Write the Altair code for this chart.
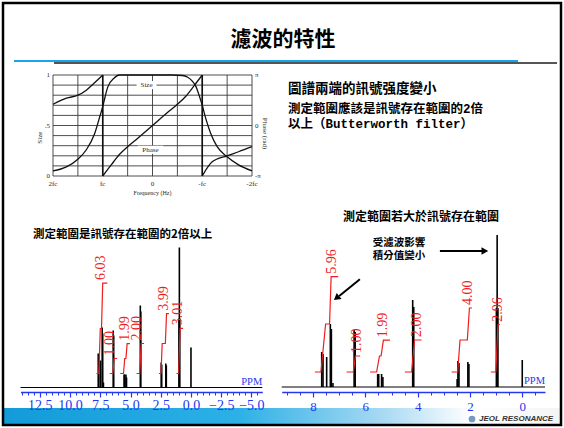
import altair as alt
import pandas as pd

CJK = "Noto Sans CJK TC"
SERIF = "Liberation Serif"
MONO = "Liberation Mono"
BLUE = "#2438f0"
RED = "#f01c1c"
INK = "#2b2b2b"

# ---------------- slide texts ----------------
title_text = "濾波的特性"
note_lines = ["圖譜兩端的訊號强度變小", "測定範圍應該是訊號存在範圍的2倍", "以上（Butterworth filter）"]
left_caption = "測定範圍是訊號存在範圍的2倍以上"
right_caption = "測定範圍若大於訊號存在範圍"
arrow_note = ["受濾波影響", "積分值變小"]
logo_text = "JEOL RESONANCE"

# ---------------- filter response (frequency in units of fc) ----------------
grid_freq = [2.0, 1.5, 1.0, 0.5, 0.0, -0.5, -1.0, -1.5, -2.0]
grid_level = [0.0, 0.1, 0.2, 0.3, 0.4, 0.5, 0.6, 0.7, 0.8, 0.9, 1.0]
size_freq = [2.0, 1.73, 1.5, 1.33, 1.17, 1.07, 1.0, 0.9, 0.77, 0.67, 0.4, 0.0,
             -0.4, -0.6, -0.7, -0.8, -0.87, -0.93, -1.0, -1.07, -1.17, -1.3, -1.5, -1.73, -2.0]
size_val = [0.05, 0.09, 0.165, 0.26, 0.41, 0.57, 0.69, 0.88, 0.97, 1.0, 1.0, 1.0,
            1.0, 0.995, 0.98, 0.94, 0.89, 0.81, 0.70, 0.57, 0.42, 0.29, 0.19, 0.11, 0.05]
phase_seg = [0] * 6 + [1] * 11 + [2] * 5
phase_freq = [2.0, 1.73, 1.5, 1.33, 1.17, 1.0,
              1.0, 0.83, 0.67, 0.5, 0.33, 0.0, -0.33, -0.5, -0.67, -0.83, -1.0,
              -1.0, -1.2, -1.5, -1.73, -2.0]
phase_val = [0.71, 0.77, 0.80, 0.85, 0.92, 1.0,
             0.0, 0.11, 0.21, 0.29, 0.36, 0.5, 0.64, 0.71, 0.79, 0.89, 1.0,
             0.0, 0.14, 0.20, 0.24, 0.29]
phase_drop_freq = [1.0, -1.0]
freq_ticks = [2.0, 1.0, 0.0, -1.0, -2.0]
freq_labels = ["2fc", "fc", "0", "-fc", "-2fc"]
level_ticks = [1.0, 0.5, 0.0]
size_labels = ["1", ".5", "0"]
phase_labels = ["π", "0", "-π"]

# ---------------- 1H spectra ----------------
left_window = [-5.9, 14.1]
right_window = [-0.87, 9.2]
left_ticks = [12.5, 10.0, 7.5, 5.0, 2.5, 0.0, -2.5, -5.0]
right_ticks = [8, 6, 4, 2, 0]

left_ppm = [7.67, 7.62, 7.48, 7.34, 7.30, 7.24, 6.43, 6.39, 5.53, 5.49, 5.38, 5.33,
            4.19, 4.15, 2.46, 2.42, 2.08, 2.04, 0.99, 0.96, 0.93, 0.00]
left_height = [34, 31, 27, 60, 54, 5, 57, 52, 13, 13, 13, 10,
               82, 76, 25, 23, 24, 22, 69, 140, 69, 40]
right_ppm = [7.67, 7.62, 7.48, 7.34, 7.30, 7.24, 6.43, 6.39, 5.53, 5.49, 5.38, 5.33,
             4.19, 4.15, 2.49, 2.46, 2.42, 2.08, 2.04, 0.99, 0.96, 0.93, 0.00]
right_height = [35, 33, 30, 63, 58, 4, 57, 55, 13, 13, 13, 10,
                87, 80, 8, 26, 24, 25, 23, 79, 152, 79, 27]

left_int_region = [0] * 6 + [1] * 4 + [2] * 6 + [3] * 4 + [4] * 6 + [5] * 4
left_int_ppm = [7.82, 7.62, 7.50, 7.40, 7.30, 6.92,
                6.72, 6.46, 6.36, 6.12,
                5.85, 5.58, 5.48, 5.38, 5.28, 5.05,
                4.50, 4.24, 4.12, 3.88,
                2.65, 2.48, 2.38, 2.12, 2.02, 1.82,
                1.20, 1.02, 0.90, 0.65]
left_int_val = [0, 0, 3.0, 3.0, 6.03, 6.03,
                0, 0, 1.0, 1.0,
                0, 0, 1.0, 1.0, 1.99, 1.99,
                0, 0, 2.0, 2.0,
                0, 0, 2.0, 2.0, 3.99, 3.99,
                0, 0, 3.01, 3.01]
left_int_values = [6.03, 1.00, 1.99, 2.00, 3.99, 3.01]
left_label_ppm = [7.47, 6.70, 5.46, 4.49, 2.23, 1.10]

right_int_region = [0] * 6 + [1] * 4 + [2] * 6 + [3] * 4 + [4] * 6 + [5] * 4
right_int_ppm = [7.93, 7.70, 7.52, 7.37, 7.31, 7.04,
                 6.72, 6.46, 6.38, 6.20,
                 5.82, 5.57, 5.46, 5.40, 5.31, 5.06,
                 4.49, 4.23, 4.12, 3.85,
                 2.70, 2.47, 2.38, 2.10, 2.02, 1.92,
                 1.20, 1.01, 0.93, 0.86]
right_int_val = [0, 0, 3.0, 3.0, 5.96, 5.96,
                 0, 0, 1.0, 1.0,
                 0, 0, 1.0, 1.0, 1.99, 1.99,
                 0, 0, 2.0, 2.0,
                 0, 0, 2.0, 2.0, 4.0, 4.0,
                 0, 0, 2.96, 2.96]
right_int_values = [5.96, 1.00, 1.99, 2.00, 4.00, 2.96]
right_label_ppm = [7.29, 6.33, 5.32, 4.04, 2.06, 0.92]

# arrows drawn in the right spectrum's coordinates (ppm, intensity)
arrow_id = [0, 0, 1, 1]
arrow_ppm = [3.15, 1.52, 6.21, 7.00]
arrow_int = [136, 136, 107.7, 91.0]
head_ppm = [1.43, 7.07]
head_int = [136, 89.7]
head_shape = ["triangle-right", "triangle"]
head_angle = [0, 231]


# ---------------- scale helpers ----------------
def lin(domain, rng):
    return alt.Scale(domain=domain, range=rng, nice=False, zero=False)


F_X = lin([-2, 2], [252, 53])
F_Y = lin([0, 1], [176, 75])
L_X = lin(left_window, [262.3, 20.5])
L_Y = lin([0, 160], [387.5, 227.5])
L_I = lin([0, 10], [373.5, 223.5])
R_X = lin(right_window, [545.0, 281.7])
R_Y = lin([0, 160], [387, 227])
R_I = lin([0, 10], [372, 212])


def X(field, scale, axis=None):
    return alt.X(field, type="quantitative", scale=scale, axis=axis)


def Y(field, scale):
    return alt.Y(field, type="quantitative", scale=scale, axis=None)


def XD(value, scale):
    return alt.XDatum(value, type="quantitative", scale=scale, axis=None)


def YD(value, scale):
    return alt.YDatum(value, type="quantitative", scale=scale, axis=None)


one = pd.DataFrame({"k": [0]})
layers = []

# ---------------- slide decoration ----------------
layers.append(alt.Chart(one).mark_rect(
    fill=alt.Gradient(gradient="linear", x1=0, x2=1, y1=0, y2=0, stops=[
        alt.GradientStop(color="#129bd9", offset=0.0),
        alt.GradientStop(color="#2cb0e6", offset=0.42),
        alt.GradientStop(color="#a8d9f2", offset=0.68),
        alt.GradientStop(color="#ffffff", offset=0.84),
        alt.GradientStop(color="#f4f4f4", offset=1.0)])
).encode(x=alt.value(3), x2=alt.value(561), y=alt.value(408), y2=alt.value(425)))
layers.append(alt.Chart(one).mark_rule(color="#555555", strokeWidth=2).encode(
    x=alt.value(54), x2=alt.value(557), y=alt.value(63)))
layers.append(alt.Chart(one).mark_rule(color="#1aa3e8", strokeWidth=2).encode(
    x=alt.value(14), x2=alt.value(518), y=alt.value(61)))
layers.append(alt.Chart(one).mark_rect(fillOpacity=0, stroke="black", strokeWidth=2.5).encode(
    x=alt.value(3), x2=alt.value(561), y=alt.value(3), y2=alt.value(425)))
layers.append(alt.Chart(one).mark_text(text=title_text, font=CJK, fontSize=21, fontWeight="bold",
                                       color="black", align="center", baseline="middle").encode(
    x=alt.value(283), y=alt.value(40)))
for txt, yy, fs in zip(note_lines, [89, 109, 124], [13.5, 12.5, 12.5]):
    layers.append(alt.Chart(one).mark_text(text=txt, font=f"{MONO}, {CJK}", fontSize=fs, fontWeight="bold",
                                           color="black", align="left", baseline="middle").encode(
        x=alt.value(288), y=alt.value(yy)))
layers.append(alt.Chart(one).mark_text(text=left_caption, font=CJK, fontSize=11.5, fontWeight="bold",
                                       color="black", align="left", baseline="middle").encode(
    x=alt.value(33), y=alt.value(235)))
layers.append(alt.Chart(one).mark_text(text=right_caption, font=CJK, fontSize=12, fontWeight="bold",
                                       color="black", align="center", baseline="middle").encode(
    x=alt.value(421), y=alt.value(217)))
for txt, yy in zip(arrow_note, [242.5, 256]):
    layers.append(alt.Chart(one).mark_text(text=txt, font=CJK, fontSize=10.5, fontWeight="bold",
                                           color="black", align="center", baseline="middle").encode(
        x=alt.value(399), y=alt.value(yy)))
layers.append(alt.Chart(one).mark_point(shape="circle", filled=True, size=45, color="#3a6ea8").encode(
    x=alt.value(472), y=alt.value(419)))
layers.append(alt.Chart(one).mark_text(text=logo_text, font="Liberation Sans", fontSize=8, fontWeight="bold",
                                       fontStyle="italic", color="#333333", align="left", baseline="middle").encode(
    x=alt.value(479), y=alt.value(419)))

# ---------------- filter response panel ----------------
vgrid = pd.DataFrame({"f": grid_freq})
hgrid = pd.DataFrame({"v": grid_level})
layers.append(alt.Chart(vgrid).mark_rule(color="#3a3a3a", strokeWidth=0.9).encode(
    x=X("f", F_X), y=YD(0, F_Y), y2=alt.datum(1)))
layers.append(alt.Chart(hgrid).mark_rule(color="#3a3a3a", strokeWidth=0.9).encode(
    y=Y("v", F_Y), x=XD(2, F_X), x2=alt.datum(-2)))
layers.append(alt.Chart(pd.DataFrame({"f": phase_drop_freq})).mark_rule(color="#111111", strokeWidth=1.6).encode(
    x=X("f", F_X), y=YD(0, F_Y), y2=alt.datum(1)))
layers.append(alt.Chart(pd.DataFrame({"f": size_freq, "v": size_val, "i": range(len(size_freq))}))
              .mark_line(color="#111111", strokeWidth=1.3, interpolate="monotone").encode(
    x=X("f", F_X), y=Y("v", F_Y), order="i:Q"))
layers.append(alt.Chart(pd.DataFrame({"f": phase_freq, "v": phase_val, "s": phase_seg,
                                      "i": range(len(phase_freq))}))
              .mark_line(color="#111111", strokeWidth=1.3, interpolate="monotone").encode(
    x=X("f", F_X), y=Y("v", F_Y), detail="s:N", order="i:Q"))
# curve names sitting on white patches over the grid
name_df = pd.DataFrame({"name": ["Size", "Phase"], "f": [0.12, 0.04], "v": [0.9, 0.26],
                        "f0": [0.32, 0.30], "f1": [-0.08, -0.22],
                        "v0": [0.86, 0.22], "v1": [0.94, 0.30]})
layers.append(alt.Chart(name_df).mark_rect(color="white").encode(
    x=X("f0", F_X), x2="f1", y=Y("v0", F_Y), y2="v1"))
layers.append(alt.Chart(name_df).mark_text(font=SERIF, fontSize=7, color=INK, baseline="middle").encode(
    x=X("f", F_X), y=Y("v", F_Y), text="name:N"))
freq_df = pd.DataFrame({"f": freq_ticks, "t": freq_labels})
layers.append(alt.Chart(freq_df).mark_text(font=SERIF, fontSize=7, color=INK, baseline="top", dy=4).encode(
    x=X("f", F_X), y=YD(0, F_Y), text="t:N"))
lvl_df = pd.DataFrame({"v": level_ticks, "a": size_labels, "b": phase_labels})
layers.append(alt.Chart(lvl_df).mark_text(font=SERIF, fontSize=7, color=INK, align="right", baseline="middle",
                                          dx=-3).encode(
    y=Y("v", F_Y), x=XD(2, F_X), text="a:N"))
layers.append(alt.Chart(lvl_df).mark_text(font=SERIF, fontSize=7, color=INK, align="left", baseline="middle",
                                          dx=3).encode(
    y=Y("v", F_Y), x=XD(-2, F_X), text="b:N"))
axis_names = pd.DataFrame({"t": ["Size", "Phase (rad)"], "f": [2.0, -2.0], "v": [0.38, 0.42]})
layers.append(alt.Chart(axis_names.iloc[[0]]).mark_text(font=SERIF, fontSize=7, color=INK, angle=270,
                                                        align="center", dy=-13).encode(
    x=X("f", F_X), y=Y("v", F_Y), text="t:N"))
layers.append(alt.Chart(axis_names.iloc[[1]]).mark_text(font=SERIF, fontSize=7, color=INK, angle=90,
                                                        align="center", dy=-13).encode(
    x=X("f", F_X), y=Y("v", F_Y), text="t:N"))
layers.append(alt.Chart(pd.DataFrame({"t": ["Frequency (Hz)"], "f": [0.0]})).mark_text(
    font=SERIF, fontSize=6, color=INK, baseline="top", dy=14).encode(
    x=X("f", F_X), y=YD(0, F_Y), text="t:N"))


# ---------------- spectrum panels ----------------
def spectrum(window, sx, sy, si, ppm, height, ip, iv, ireg, lvals, lppm, ticks, fmt, pad, lfs):
    out = []
    major = alt.Axis(orient="bottom", offset=-36, values=ticks, format=fmt, title=None, grid=False,
                     labelFont=SERIF, labelFontSize=lfs, labelColor=BLUE, labelPadding=pad,
                     labelFlush=False, labelOverlap=False, domainColor=BLUE, domainWidth=1.5,
                     tickColor=BLUE, tickSize=5, tickWidth=1.2, zindex=1)
    lo, hi = window
    minor_vals = [v / 2 for v in range(int(lo * 2) - 1, int(hi * 2) + 2) if lo <= v / 2 <= hi]
    minor = alt.Axis(orient="bottom", offset=-36, values=minor_vals, labels=False, domain=False,
                     title=None, grid=False, tickColor=BLUE, tickSize=3, tickWidth=1, zindex=1)
    out.append(alt.Chart(pd.DataFrame({"a": [hi], "b": [lo]})).mark_rule(color="black", strokeWidth=1.2).encode(
        x=X("a", sx, major), x2="b", y=YD(0, sy)))
    out.append(alt.Chart(pd.DataFrame({"ppm": ppm, "h": height})).mark_rule(color="black", strokeWidth=1.6).encode(
        x=X("ppm", sx, minor), y=Y("h", sy), y2=alt.datum(0)))
    out.append(alt.Chart(pd.DataFrame({"ppm": ip, "v": iv, "r": ireg, "i": range(len(ip))}))
               .mark_line(color=RED, strokeWidth=1.2).encode(
        x=X("ppm", sx), y=Y("v", si), detail="r:N", order="i:Q"))
    out.append(alt.Chart(pd.DataFrame({"ppm": lppm, "v": lvals}))
               .mark_text(font=SERIF, fontSize=14, color=RED, angle=270, align="left", baseline="middle", dx=3)
               .encode(x=X("ppm", sx), y=Y("v", si), text=alt.Text("v:Q", format=".2f")))
    out.append(alt.Chart(pd.DataFrame({"t": ["PPM"], "p": [lo]})).mark_text(
        font=SERIF, fontSize=10.5, color=BLUE, align="right", baseline="bottom", dy=-1).encode(
        x=X("p", sx), y=YD(0, sy), text="t:N"))
    return out


layers += spectrum(left_window, L_X, L_Y, L_I, left_ppm, left_height, left_int_ppm, left_int_val,
                   left_int_region, left_int_values, left_label_ppm, left_ticks, ".1f", 1, 14)
layers += spectrum(right_window, R_X, R_Y, R_I, right_ppm, right_height, right_int_ppm, right_int_val,
                   right_int_region, right_int_values, right_label_ppm, right_ticks, "d", 3, 13)

layers.append(alt.Chart(pd.DataFrame({"ppm": arrow_ppm, "h": arrow_int, "a": arrow_id}))
              .mark_line(color="black", strokeWidth=2).encode(
    x=X("ppm", R_X), y=Y("h", R_Y), detail="a:N"))
for p, h, s, ang in zip(head_ppm, head_int, head_shape, head_angle):
    layers.append(alt.Chart(pd.DataFrame({"ppm": [p], "h": [h]})).mark_point(
        shape=s, angle=ang, filled=True, size=60, color="black", opacity=1).encode(
        x=X("ppm", R_X), y=Y("h", R_Y)))

chart = alt.layer(*layers).resolve_scale(x="independent", y="independent").properties(
    width=564, height=428, padding=0, autosize=alt.AutoSizeParams(type="none"), background="white"
).configure_view(stroke=None)

chart.save("out.html", embed_options={"renderer": "svg", "actions": False})
